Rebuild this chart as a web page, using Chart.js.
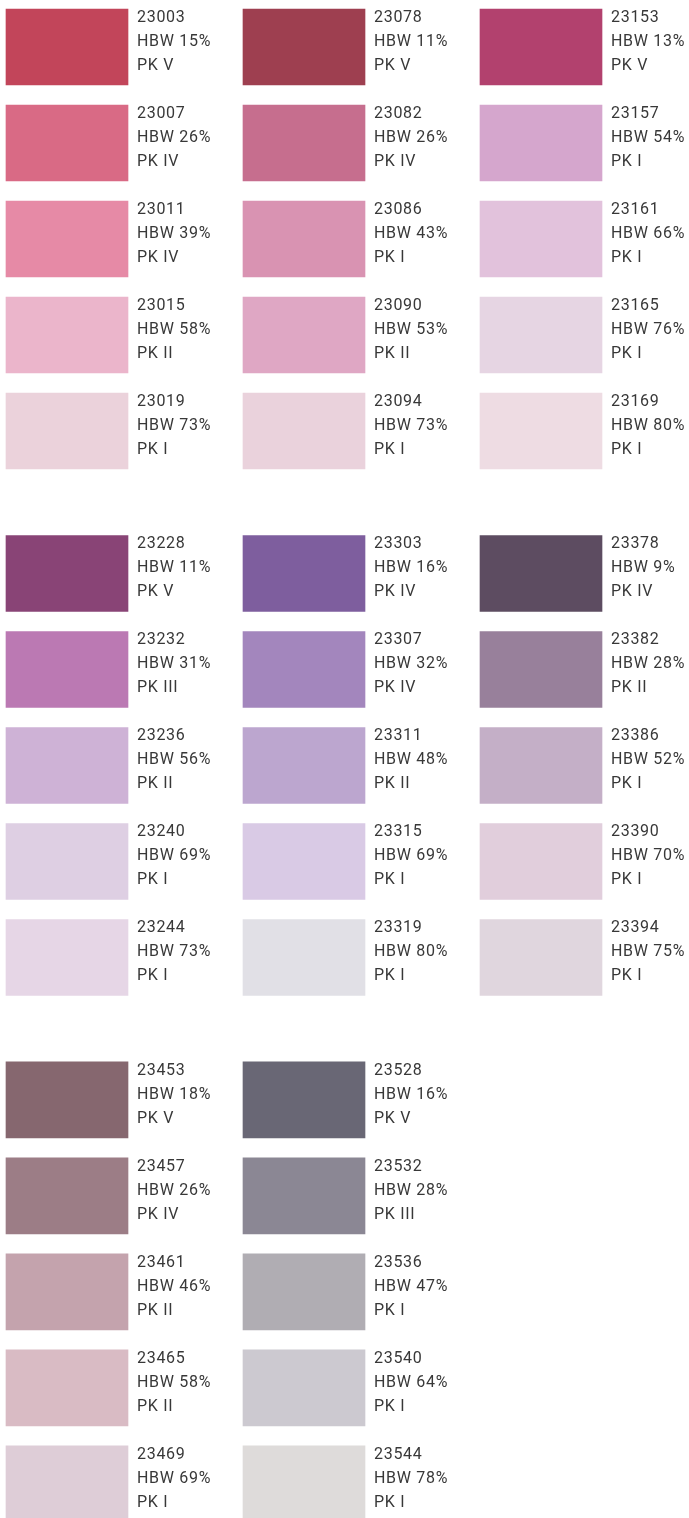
<!DOCTYPE html>
<html>
<head>
<meta charset="utf-8">
<script src="https://cdn.jsdelivr.net/npm/chart.js@4"></script>
<style>
  body { margin: 0; background: #fff; }
  #wrap { width: 689px; height: 1518px; position: relative; }
</style>
</head>
<body>
<div id="wrap"><canvas id="myChart"></canvas></div>
<script>
// colour chips, read column by column (3 groups of 5 rows each)
const leftCodes = ['23003','23007','23011','23015','23019','23228','23232','23236','23240','23244','23453','23457','23461','23465','23469'];
const leftHbw = [15, 26, 39, 58, 73, 11, 31, 56, 69, 73, 18, 26, 46, 58, 69];
const leftPk = ['V','IV','IV','II','I','V','III','II','I','I','V','IV','II','II','I'];
const leftColors = ['#C2455A','#D96A85','#E68AA6','#EBB5CB','#EBD2DB','#894476','#BB79B3','#CEB2D6','#DECFE3','#E6D6E6','#86676F','#9C7D86','#C4A3AD','#D9BBC4','#DECDD7'];

const midCodes = ['23078','23082','23086','23090','23094','23303','23307','23311','23315','23319','23528','23532','23536','23540','23544'];
const midHbw = [11, 26, 43, 53, 73, 16, 32, 48, 69, 80, 16, 28, 47, 64, 78];
const midPk = ['V','IV','I','II','I','IV','IV','II','I','I','V','III','I','I','I'];
const midColors = ['#9E3F50','#C66E8E','#D993B2','#DFA7C4','#EAD2DC','#7E5E9E','#A386BD','#BCA6CF','#D9CAE5','#E1E0E6','#696775','#8B8794','#B0ADB3','#CCC9D0','#DEDBDA'];

const rightCodes = ['23153','23157','23161','23165','23169','23378','23382','23386','23390','23394'];
const rightHbw = [13, 54, 66, 76, 80, 9, 28, 52, 70, 75];
const rightPk = ['V','I','I','I','I','IV','II','I','I','I'];
const rightColors = ['#B2416E','#D5A6CD','#E2C2DC','#E6D5E3','#EEDCE3','#5D4C61','#98809B','#C4AFC7','#E1CEDC','#E0D6DE'];

const columns = [
  { codes: leftCodes, hbw: leftHbw, pk: leftPk, colors: leftColors },
  { codes: midCodes, hbw: midHbw, pk: midPk, colors: midColors },
  { codes: rightCodes, hbw: rightHbw, pk: rightPk, colors: rightColors }
];

// layout in grid units: 1 x unit = one column, 1 y unit = one row
const chipWidth = 122 / 237;
const groupStep = 5.484;

const datasets = columns.map((col, c) => ({
  label: 'col' + c,
  data: col.codes.map((code, i) => ({
    y: Math.floor(i / 5) * groupStep + (i % 5),
    x: [c, c + chipWidth]
  })),
  backgroundColor: col.colors,
  barThickness: 76,
  borderWidth: 0
}));

const chipLabels = {
  id: 'chipLabels',
  afterDatasetsDraw(chart) {
    const ctx = chart.ctx;
    ctx.save();
    ctx.font = '16px Roboto';
    ctx.letterSpacing = '0.7px';
    ctx.fillStyle = '#383838';
    ctx.textBaseline = 'alphabetic';
    ctx.textAlign = 'left';
    chart.data.datasets.forEach((ds, d) => {
      const col = columns[d];
      chart.getDatasetMeta(d).data.forEach((el, i) => {
        const top = el.y - el.height / 2;
        const x = el.x + 9;
        ctx.fillText(col.codes[i], x, top + 13);
        ctx.fillText('HBW ' + col.hbw[i] + '%', x, top + 37);
        ctx.fillText('PK ' + col.pk[i], x, top + 61);
      });
    });
    ctx.restore();
  }
};

var ctx = document.getElementById('myChart').getContext('2d');
var chart = new Chart(ctx, {
  type: 'bar',
  data: { datasets: datasets },
  options: {
    indexAxis: 'y',
    responsive: true,
    maintainAspectRatio: false,
    animation: false,
    layout: { padding: 0 },
    grouped: false,
    scales: {
      x: { type: 'linear', display: false, min: -6 / 237, max: 683 / 237 },
      y: { type: 'linear', display: false, offset: false, reverse: true, min: -47 / 96, max: 1471 / 96 }
    },
    plugins: {
      legend: { display: false },
      tooltip: { enabled: false }
    }
  },
  plugins: [chipLabels]
});
</script>
</body>
</html>
